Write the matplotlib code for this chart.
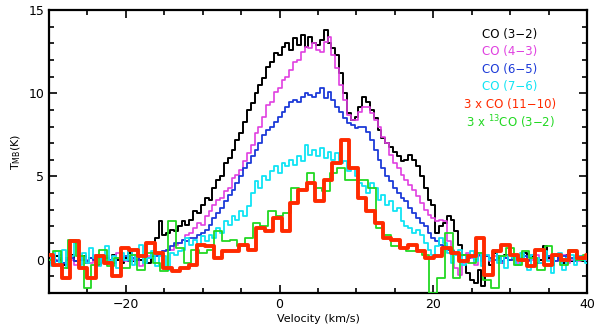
import numpy as np
import matplotlib
matplotlib.use("Agg")
import matplotlib.pyplot as plt
from matplotlib.ticker import MultipleLocator

# ---------------- datos (T_MB en K) ----------------
# canales finos: -30 .. 40 km/s cada 0.5 km/s
v_fino = np.arange(-30.0, 40.01, 0.5)

co32 = [0.1, -0.2, 0.2, 0.0, -0.3, 0.1, 0.3, -0.1, 0.0, 0.2,
        -0.2, 0.1, 0.0, -0.3, 0.2, 0.1, -0.1, 0.3, 0.0, -0.2,
        0.1, 0.4, -0.1, 0.2, 0.0, 0.3, -0.2, 0.2, 1.3, 2.3,
        1.5, 1.6, 1.8, 1.7, 2.0, 2.3, 2.1, 2.4, 2.9, 2.8,
        3.3, 3.7, 3.6, 4.3, 4.8, 5.0, 5.8, 6.1, 6.6, 7.2,
        7.6, 8.3, 9.0, 9.4, 10.0, 10.5, 10.9, 11.6, 11.9, 12.4,
        12.3, 12.8, 13.0, 12.6, 13.3, 12.9, 13.5, 12.8, 13.4, 13.0,
        12.9, 13.2, 13.8, 13.0, 12.7, 12.3, 11.2, 10.0, 8.8, 8.4,
        8.6, 9.2, 9.8, 9.5, 9.0, 8.5, 7.8, 7.3, 7.0, 6.8,
        6.5, 6.2, 5.9, 6.0, 6.3, 6.0, 5.6, 5.0, 4.3, 3.6,
        3.3, 1.6, 2.0, 2.2, 2.6, 2.4, 1.7, 0.9, 0.3, -0.8,
        -1.2, -1.4, -0.6, -1.6, 0.2, -0.3, 0.4, 0.1, -0.2, 0.3,
        0.0, 0.2, -0.3, 0.1, 0.4, -0.1, 0.2, -0.2, 0.0, 0.8,
        0.1, -0.3, 0.2, 0.0, -0.2, 0.3, -0.1, 0.1, 0.2, -0.1,
        0.0]

co43 = [0.2, -0.1, 0.0, 0.3, -0.2, 0.1, 0.0, -0.3, 0.2, 0.1,
        0.0, -0.2, 0.3, 0.1, -0.1, 0.2, 0.0, -0.2, 0.4, 0.1,
        -0.1, 0.2, 0.0, 0.3, -0.4, 0.1, 0.2, 0.3, 0.4, 0.3,
        0.5, 0.6, 0.6, 0.9, 1.0, 1.2, 1.5, 1.6, 1.9, 2.2,
        2.1, 2.6, 2.9, 3.3, 3.6, 3.7, 4.1, 4.3, 4.9, 5.1,
        5.4, 5.9, 6.4, 6.9, 7.6, 8.0, 8.6, 9.3, 9.5, 10.1,
        10.3, 10.8, 11.0, 11.4, 11.9, 12.0, 12.5, 12.8, 12.7, 13.0,
        12.6, 12.5, 13.1, 13.4, 12.3, 11.5, 10.5, 9.6, 8.7, 8.4,
        8.4, 8.9, 9.2, 9.2, 8.8, 8.4, 8.0, 7.4, 7.0, 6.3,
        5.8, 5.5, 5.1, 4.8, 4.5, 4.2, 3.8, 3.4, 3.0, 2.7,
        2.5, 2.3, 2.4, 2.3, 1.1, 0.6, -0.5, -0.9, -0.2, 0.4,
        0.1, -0.3, 0.2, 0.0, 0.3, -0.1, 0.2, 0.0, -0.2, 0.1,
        0.3, 0.0, -0.2, 0.1, 0.2, -0.1, 0.0, 0.3, -0.2, 0.1,
        0.0, 0.2, -0.1, 0.1, 0.3, -0.2, 0.0, 0.1, -0.1, 0.2,
        0.0]

co65 = [0.0, 0.2, -0.1, 0.1, -0.2, 0.0, 0.1, -0.1, 0.2, 0.0,
        -0.1, 0.1, 0.0, 0.2, -0.1, 0.1, 0.0, -0.2, 0.1, 0.0,
        0.2, -0.1, 0.1, 0.0, 0.2, 0.3, 0.1, 0.4, 0.2, 0.3,
        0.5, 0.6, 0.8, 1.0, 1.0, 1.2, 1.1, 1.3, 1.3, 1.5,
        1.6, 1.8, 2.1, 2.5, 2.8, 3.1, 3.5, 3.9, 4.2, 4.6,
        5.0, 5.5, 5.8, 6.2, 6.6, 7.0, 7.5, 7.8, 8.0, 8.3,
        8.6, 8.9, 9.2, 9.5, 9.6, 9.5, 9.8, 10.0, 9.9, 9.8,
        10.0, 10.3, 9.7, 10.1, 9.6, 9.2, 8.9, 8.5, 8.2, 8.1,
        7.9, 8.0, 8.0, 7.7, 7.2, 6.6, 6.0, 5.5, 5.0, 4.7,
        4.3, 4.0, 3.7, 3.5, 3.1, 2.8, 2.5, 2.2, 2.0, 1.6,
        1.3, 1.1, 0.9, 0.8, 0.6, 0.5, 0.4, 0.2, 0.3, 0.1,
        0.2, 0.0, 0.3, -0.1, 0.2, 0.1, 0.0, 0.2, -0.1, 0.1,
        0.0, 0.2, 0.1, -0.1, 0.2, 0.0, 0.3, 0.1, -0.2, 0.1,
        0.2, 0.0, -0.1, 0.1, 0.2, 0.0, 0.1, -0.1, 0.2, 0.0,
        0.1]

co76 = [0.3, -0.4, 0.5, -0.2, 0.6, -0.5, 0.2, 1.0, -0.3, 0.4,
        -0.2, 0.7, 0.1, -0.4, 0.3, 0.8, -0.1, 0.2, -0.5, 0.4,
        0.0, 0.6, -0.3, 0.3, 0.9, -0.2, 0.1, 0.5, -0.4, 0.2,
        0.2, -0.6, 0.4, 0.3, 0.5, 0.6, 1.3, 0.9, 1.2, 0.8,
        1.4, 1.1, 1.5, 1.3, 1.9, 1.6, 2.3, 2.1, 2.6, 2.4,
        2.9, 2.6, 3.2, 4.0, 4.7, 4.3, 5.0, 4.8, 5.3, 5.6,
        5.2, 5.8, 5.6, 6.0, 5.7, 6.2, 5.9, 6.9, 6.3, 6.6,
        6.2, 6.7, 6.1, 6.5, 6.0, 6.4, 5.8, 5.9, 5.3, 5.5,
        5.0, 4.6, 4.4, 4.0, 4.6, 4.3, 3.6, 3.9, 3.3, 3.5,
        2.9, 3.1, 2.3, 2.0, 1.9, 1.6, 1.8, 1.5, 1.0, 0.6,
        0.3, 0.8, 1.3, 1.0, 0.4, -0.2, 0.3, 0.6, -0.3, 0.2,
        0.5, -0.1, 0.4, -0.4, 0.3, 0.0, 0.6, -0.2, 0.2, -0.5,
        0.3, 0.1, -0.3, 0.4, 0.0, -0.6, 0.3, 0.1, -0.2, 0.5,
        -0.1, -0.8, 0.2, 0.4, -0.6, 0.1, 0.3, -0.3, 0.2, 0.0,
        -0.2]

# CO(11-10) x3, canales de 1.1 km/s
v_rojo = np.arange(65) * 1.1 - 30.0
co1110 = [0.3, -0.3, -1.1, 1.1, -0.5, -1.1, 0.2, -0.2, -1.0, 0.7,
          0.6, 0.2, 1.0, 0.4, -0.5, -0.7, -0.5, -0.3, 0.9, 0.8,
          0.1, 0.5, 0.5, 0.9, 0.6, 1.9, 1.7, 2.5, 1.7, 3.4,
          4.2, 4.6, 3.5, 4.8, 5.8, 7.2, 5.5, 3.7, 2.9, 2.2,
          1.3, 1.2, 0.7, 0.9, 0.5, 0.1, 0.2, 0.7, 0.4, -0.1,
          0.2, 1.3, -0.9, 0.5, 0.9, 0.3, 0.0, -0.4, 0.6, -0.3,
          0.3, 0.0, 0.5, 0.1, 0.3]

# 13CO(3-2) x3, canales de 1 km/s
v_verde = np.arange(-30.0, 40.01, 1.0)
c13o32 = [0.0, 0.5, -0.5, 1.2, 0.2, -1.7, -0.3, 0.6, -0.4, 0.1,
          -0.5, 0.3, -0.6, 0.4, -0.2, -0.7, 2.3, 0.7, -0.2, 0.6,
          0.4, 0.6, 1.7, 1.1, 1.2, 0.8, 1.3, 2.2, 2.0, 2.9,
          2.6, 2.8, 4.3, 4.2, 5.2, 4.3, 4.1, 5.2, 5.5, 4.8,
          4.8, 4.8, 4.3, 1.9, 1.5, 0.8, 0.7, 0.5, 0.5, 0.3,
          -2.0, -1.1, 1.6, -1.1, 0.3, -0.2, 0.4, -1.2, -1.7, 0.2,
          0.7, -0.3, 0.5, 0.1, -0.6, 0.8, 0.2, -0.3, 0.6, 0.0,
          0.3]

etiquetas = ["CO (3\u22122)", "CO (4\u22123)", "CO (6\u22125)", "CO (7\u22126)",
             "3 x CO (11\u221210)", "3 x $^{13}$CO (3\u22122)"]
colores = ["black", "#e040e0", "#1c3ad8", "#10e4f4", "#ff2a00", "#22d822"]

# ---------------- figura ----------------
plt.rcParams['font.family'] = ['DejaVu Sans']
fig = plt.figure(figsize=(6.0, 3.28), dpi=100)
ax = fig.add_axes([0.0817, 0.1067, 0.8967, 0.8628])

ax.step(v_fino, co32, where='mid', color=colores[0], lw=1.4, zorder=2)
ax.step(v_fino, co43, where='mid', color=colores[1], lw=1.2, zorder=3)
ax.step(v_fino, co65, where='mid', color=colores[2], lw=1.3, zorder=4)
ax.step(v_fino, co76, where='mid', color=colores[3], lw=1.3, zorder=5)
ax.step(v_verde, c13o32, where='mid', color=colores[5], lw=1.3, zorder=6)
ax.step(v_rojo, co1110, where='mid', color=colores[4], lw=2.8, zorder=7)

ax.set_xlim(-30, 40)
ax.set_ylim(-2, 15)
ax.xaxis.set_major_locator(MultipleLocator(20))
ax.xaxis.set_minor_locator(MultipleLocator(5))
ax.yaxis.set_major_locator(MultipleLocator(5))
ax.yaxis.set_minor_locator(MultipleLocator(1))
ax.tick_params(which='both', direction='in', top=True, right=True, width=1.2,
               labelsize=9)
ax.tick_params(which='major', length=6)
ax.tick_params(which='minor', length=3.5)
for s in ax.spines.values():
    s.set_linewidth(1.6)

ax.set_xlabel("Velocity (km/s)", fontsize=8, labelpad=2)
ax.set_ylabel("T$_{\\rm MB}$(K)", fontsize=8, labelpad=4)

# leyenda de texto
y0 = 0.915
for i, (t, c) in enumerate(zip(etiquetas, colores)):
    ax.text(0.857, y0 - i * 0.062, t, color=c, fontsize=8.5,
            ha='center', va='center', transform=ax.transAxes)

fig.savefig("out.png", dpi=100)
